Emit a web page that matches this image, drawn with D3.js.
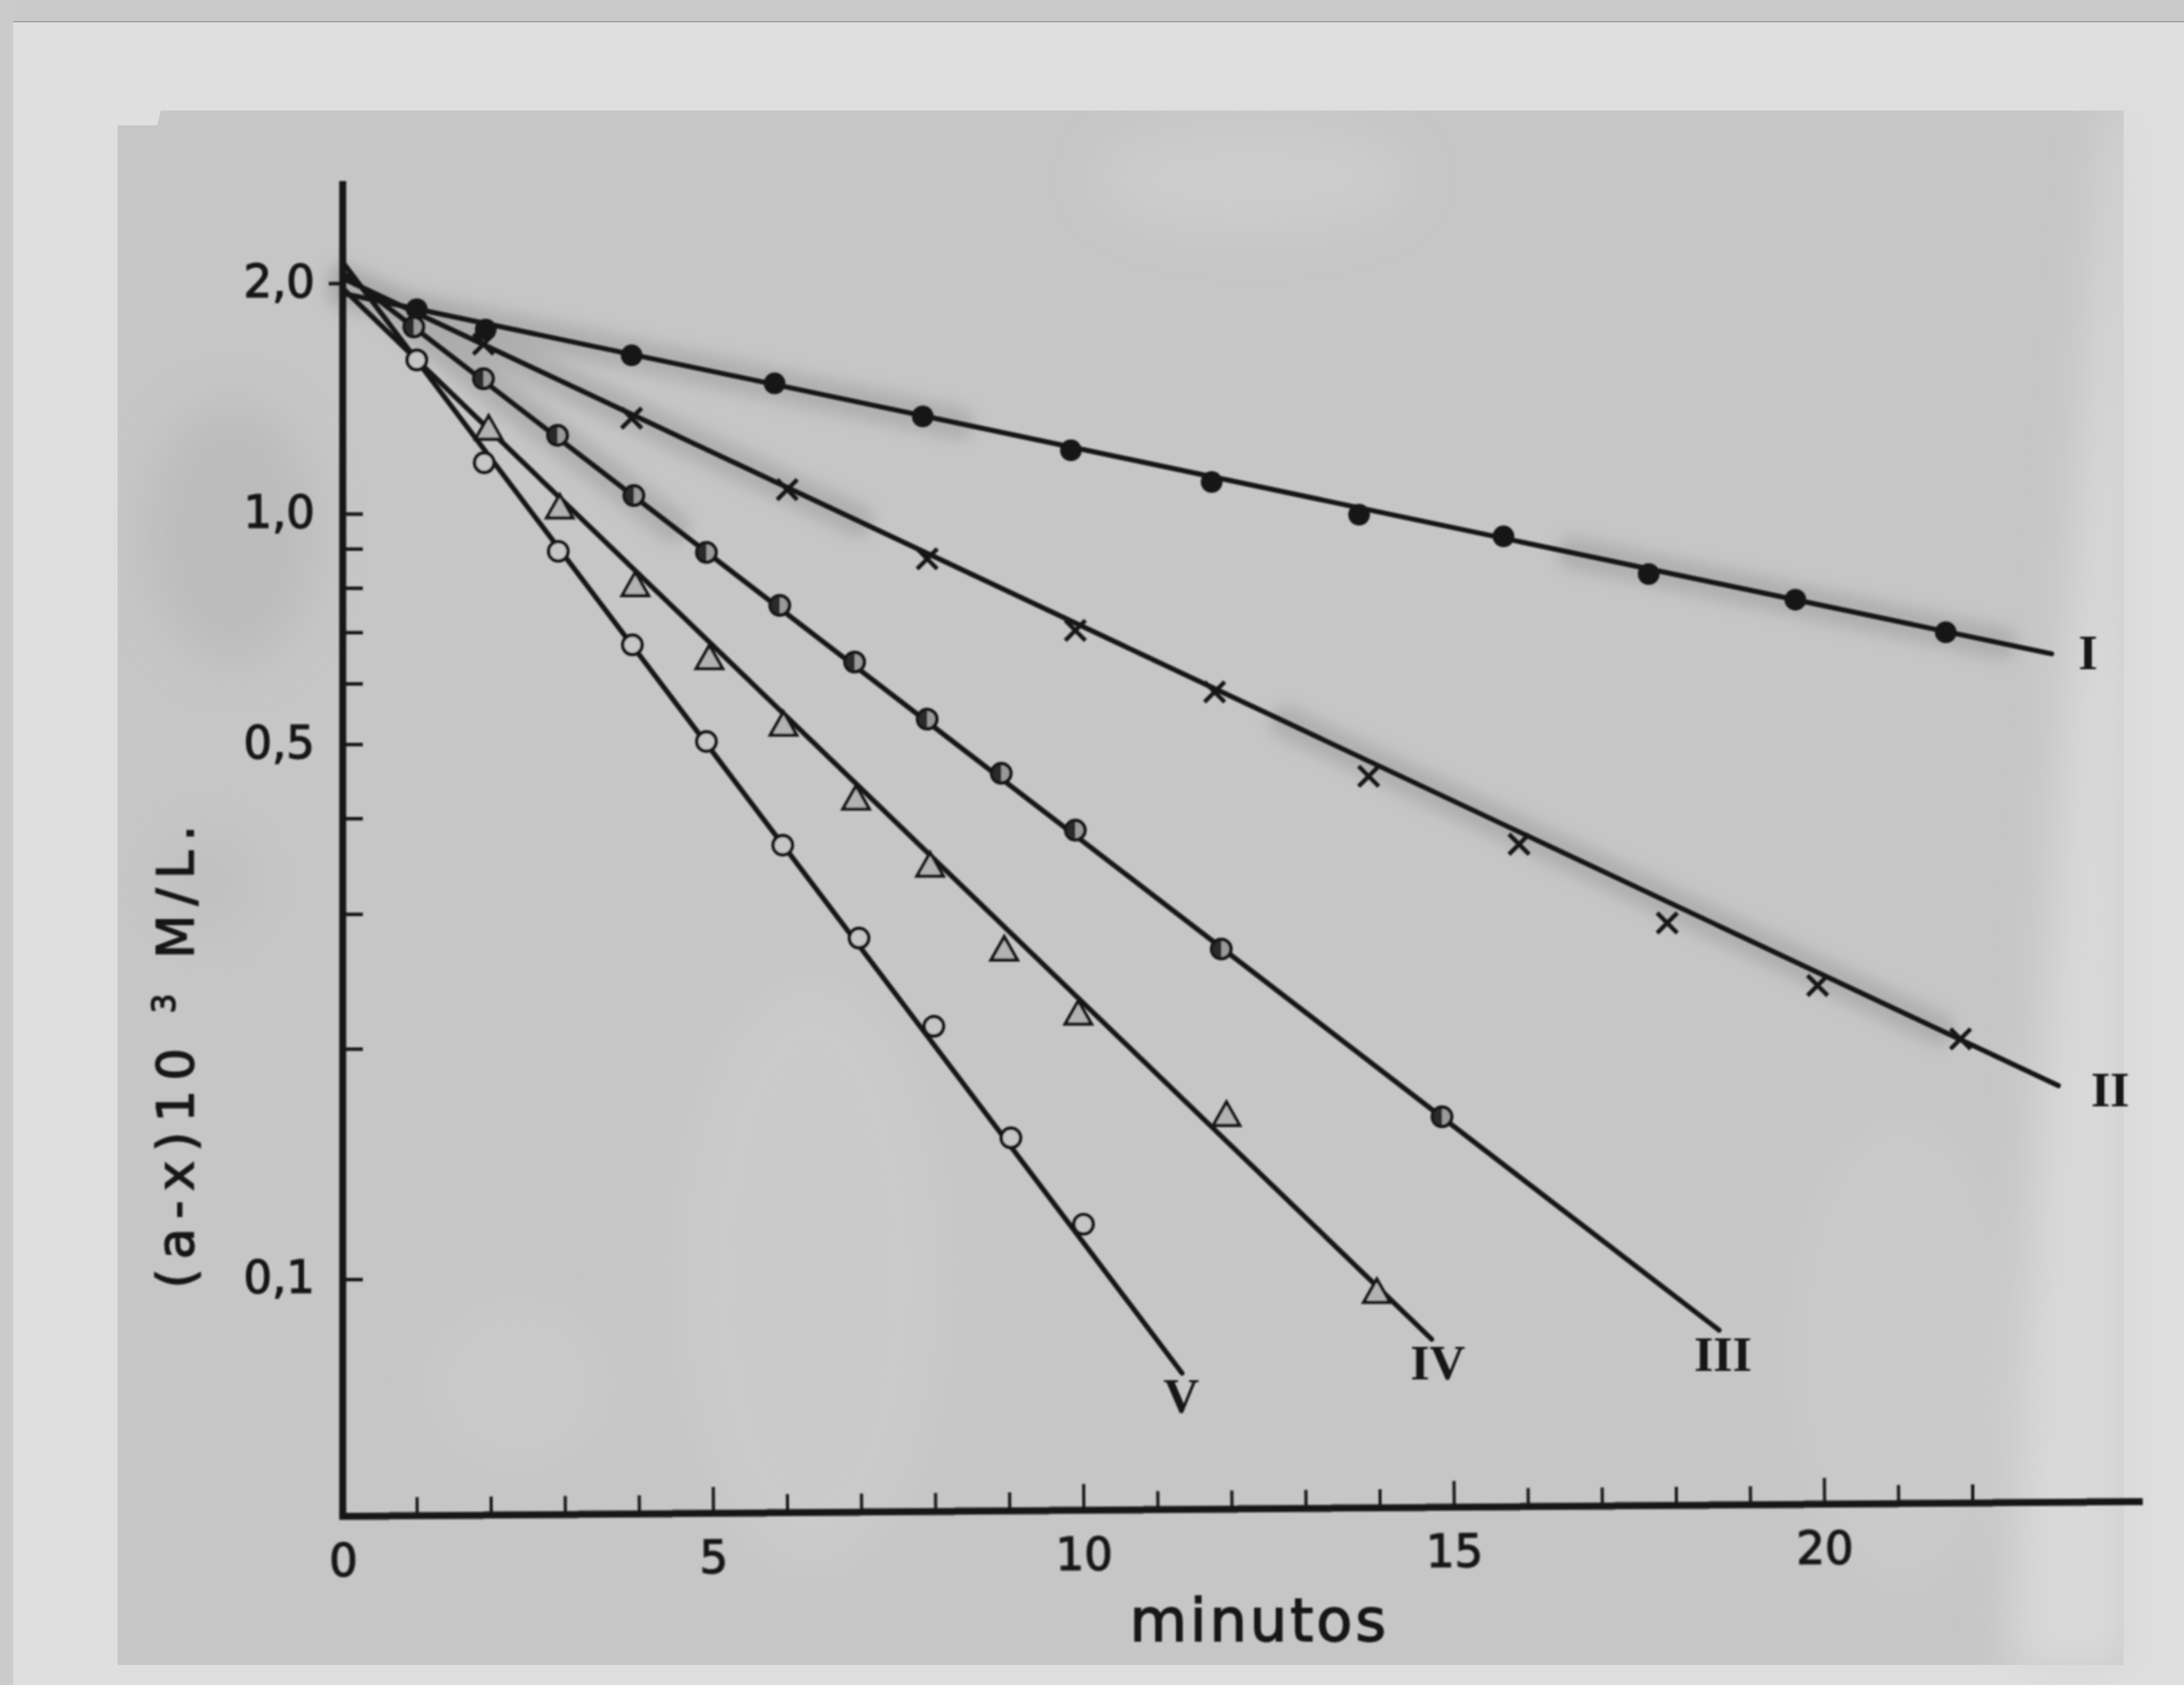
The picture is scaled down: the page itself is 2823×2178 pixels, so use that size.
<!DOCTYPE html>
<html>
<head>
<meta charset="utf-8">
<script src="https://cdn.jsdelivr.net/npm/d3@7"></script>
<style>
  html, body { margin: 0; padding: 0; background: #dfdfdf; }
  svg { display: block; }
</style>
</head>
<body>
<svg id="chart" width="2823" height="2178"></svg>
<script>
// ---- Data: time (minutos) and (a-x)·10^3 M/L for each run ----
const seriesNames = ["I", "II", "III", "IV", "V"];

const timesI  = [1.00, 1.93, 3.90, 5.83, 7.83, 9.83, 11.73, 13.72, 15.67, 17.63, 19.61, 21.64];
const valuesI = [1.85, 1.74, 1.61, 1.48, 1.34, 1.21, 1.10, 0.997, 0.934, 0.834, 0.772, 0.700];

const timesII  = [1.90, 3.90, 6.00, 7.89, 9.89, 11.77, 13.85, 15.88, 17.88, 19.91, 21.84];
const valuesII = [1.665, 1.333, 1.075, 0.873, 0.704, 0.585, 0.454, 0.370, 0.292, 0.242, 0.206];

const timesIII  = [0.96, 1.90, 2.90, 3.93, 4.91, 5.90, 6.91, 7.89, 8.89, 9.89, 11.86, 14.84];
const valuesIII = [1.754, 1.501, 1.266, 1.056, 0.890, 0.759, 0.640, 0.539, 0.458, 0.386, 0.270, 0.163];

const timesIV  = [1.97, 2.93, 3.95, 4.95, 5.95, 6.93, 7.93, 8.93, 9.93, 11.93, 13.96];
const valuesIV = [1.284, 1.013, 0.802, 0.644, 0.527, 0.422, 0.345, 0.268, 0.221, 0.163, 0.0957];

const timesV  = [1.00, 1.91, 2.91, 3.91, 4.91, 5.94, 6.97, 7.98, 9.02, 10.00];
const valuesV = [1.588, 1.166, 0.893, 0.674, 0.504, 0.369, 0.279, 0.214, 0.153, 0.118];

// Ruled straight lines: value at t = 0 and the point where each line stops
const lineStartValues = [1.94, 2.03, 2.065, 1.97, 2.13];
const lineEndTimes    = [23.07, 23.16, 18.58, 14.70, 11.33];
const lineEndValues   = [0.656, 0.179, 0.0858, 0.0835, 0.0754];

// Axis ticks
const xMajorTicks = [0, 5, 10, 15, 20];
const xMinorTicks = [1, 2, 3, 4, 6, 7, 8, 9, 11, 12, 13, 14, 16, 17, 18, 19, 21, 22];
const yLabelTicks = [2, 1, 0.5, 0.1];
const yMinorTicks = [1, 0.9, 0.8, 0.7, 0.6, 0.5, 0.4, 0.3, 0.2, 0.1];
const xAxisMax = 24.3;
const yAxisMax = 2.72;

// ---- Layout ----
const svg = d3.select("#chart");
const INK = "#151515";
const PAPER = "#c6c6c6";
const x = d3.scaleLinear().domain([0, 20]).range([443, 2358]);
const y = d3.scaleLog().domain([0.1, 1]).range([1653.5, 664]);
const axisY = 1960;

const defs = svg.append("defs");
defs.append("filter").attr("id", "soft").attr("x", "-5%").attr("y", "-5%").attr("width", "110%").attr("height", "110%")
  .append("feGaussianBlur").attr("stdDeviation", 1.3);
defs.append("filter").attr("id", "haze").attr("x", "-50%").attr("y", "-50%").attr("width", "200%").attr("height", "200%")
  .append("feGaussianBlur").attr("stdDeviation", 30);
defs.append("filter").attr("id", "smudge").attr("x", "-30%").attr("y", "-30%").attr("width", "160%").attr("height", "160%")
  .append("feGaussianBlur").attr("stdDeviation", 9);

// ---- Paper: mount and the grey print ----
const paper = svg.append("g");
paper.append("rect").attr("width", 2823).attr("height", 2178).attr("fill", "#dfdfdf");
paper.append("rect").attr("width", 2823).attr("height", 27).attr("fill", "#cacaca");
paper.append("rect").attr("y", 27).attr("width", 2823).attr("height", 2).attr("fill", "#a6a6a6");
paper.append("rect").attr("width", 17).attr("height", 2178).attr("fill", "#cbcbcb");
paper.append("path")
  .attr("d", "M152,162 L203,162 L208,143 L2745,143 L2745,2152 L152,2152 Z")
  .attr("fill", PAPER);
// lighter ragged margin on the right edge
paper.append("path")
  .attr("d", "M2760,130 L2760,2165 L2600,2165 L2610,1800 L2645,1300 L2670,900 L2700,500 L2730,140 Z")
  .attr("fill", "#d9d9d9").attr("filter", "url(#haze)");

// blotches in the print
const blotches = [
  [1050, 1650, 170, 380, "#d0d0d0", 0.45],
  [2460, 1750, 140, 300, "#d0d0d0", 0.4],
  [1620, 230, 200, 70, "#d2d2d2", 0.55],
  [670, 1790, 120, 110, "#cecece", 0.45],
  [300, 690, 110, 170, "#b4b4b4", 0.55],
  [270, 1140, 60, 70, "#b8b8b8", 0.4]
];
paper.selectAll("ellipse.blotch").data(blotches).join("ellipse")
  .attr("class", "blotch")
  .attr("cx", d => d[0]).attr("cy", d => d[1]).attr("rx", d => d[2]).attr("ry", d => d[3])
  .attr("fill", d => d[4]).attr("opacity", d => d[5]).attr("filter", "url(#haze)");

// ---- Series ----
const series = [
  { name: "I",   t: timesI,   v: valuesI,   kind: "disc" },
  { name: "II",  t: timesII,  v: valuesII,  kind: "cross" },
  { name: "III", t: timesIII, v: valuesIII, kind: "half" },
  { name: "IV",  t: timesIV,  v: valuesIV,  kind: "triangle" },
  { name: "V",   t: timesV,   v: valuesV,   kind: "ring" }
].map((s, i) => ({
  ...s,
  start: [0, lineStartValues[i]],
  end: [lineEndTimes[i], lineEndValues[i]],
  points: s.t.map((t, j) => [t, s.v[j]])
}));

// grey smudges that follow parts of the ruled lines
const smudgeSpans = { I: [[0, 0.36], [0.72, 0.97]], II: [[0, 0.3], [0.55, 0.93]], III: [[0.03, 0.24]] };
const smudges = svg.append("g").attr("filter", "url(#smudge)");
series.forEach(s => {
  (smudgeSpans[s.name] || []).forEach(([a, b]) => {
    const x0 = x(s.start[0]), y0 = y(s.start[1]), x1 = x(s.end[0]), y1 = y(s.end[1]);
    smudges.append("line")
      .attr("x1", x0 + (x1 - x0) * a).attr("y1", y0 + (y1 - y0) * a)
      .attr("x2", x0 + (x1 - x0) * b).attr("y2", y0 + (y1 - y0) * b)
      .attr("stroke", "#a9a9a9").attr("stroke-width", 42).attr("stroke-linecap", "round")
      .attr("opacity", 0.75);
  });
});

const ink = svg.append("g").attr("filter", "url(#soft)");

// ---- Axes ----
// y axis line
ink.append("line")
  .attr("x1", x(0)).attr("x2", x(0)).attr("y1", y(yAxisMax)).attr("y2", axisY + 4)
  .attr("stroke", INK).attr("stroke-width", 9);

const yTicks = ink.append("g").attr("transform", `translate(${x(0)},0)`)
  .call(d3.axisRight(y).tickValues(yMinorTicks).tickSizeInner(26).tickSizeOuter(0).tickFormat(""));
yTicks.select(".domain").remove();
yTicks.selectAll(".tick line").attr("stroke", INK).attr("stroke-width", 4.5);

const yTop = ink.append("g").attr("transform", `translate(${x(0)},0)`)
  .call(d3.axisLeft(y).tickValues([2]).tickSizeInner(18).tickSizeOuter(0).tickFormat(""));
yTop.select(".domain").remove();
yTop.selectAll(".tick line").attr("stroke", INK).attr("stroke-width", 4.5);

const fmt = d => d3.format(".1f")(d).replace(".", ",");
const yLabels = ink.append("g").attr("transform", `translate(${x(0)},0)`)
  .call(d3.axisLeft(y).tickValues(yLabelTicks).tickSizeInner(0).tickSizeOuter(0).tickPadding(36).tickFormat(fmt));
yLabels.select(".domain").remove();
yLabels.selectAll(".tick line").remove();
yLabels.selectAll(".tick text")
  .attr("font-family", "'DejaVu Sans', sans-serif").attr("font-size", 58)
  .attr("stroke", INK).attr("stroke-width", 1.5)
  .attr("fill", INK).attr("dy", "0.3em");

// x axis (slightly tilted on the print)
const xAxisG = ink.append("g").attr("transform", `rotate(-0.47, ${x(0)}, ${axisY})`);
xAxisG.append("line")
  .attr("x1", x(0) - 4).attr("x2", x(xAxisMax)).attr("y1", axisY).attr("y2", axisY)
  .attr("stroke", INK).attr("stroke-width", 9);

const xMinor = xAxisG.append("g").attr("transform", `translate(0,${axisY})`)
  .call(d3.axisBottom(x).tickValues(xMinorTicks).tickSizeInner(-24).tickSizeOuter(0).tickFormat(""));
xMinor.select(".domain").remove();
xMinor.selectAll(".tick line").attr("stroke", INK).attr("stroke-width", 4);

const xMajor = xAxisG.append("g").attr("transform", `translate(0,${axisY})`)
  .call(d3.axisBottom(x).tickValues(xMajorTicks).tickSizeInner(-34).tickSizeOuter(0).tickPadding(36).tickFormat(d3.format("d")));
xMajor.select(".domain").remove();
xMajor.selectAll(".tick line").attr("stroke", INK).attr("stroke-width", 4)
  .filter(d => d === 0).remove();
xMajor.selectAll(".tick text")
  .attr("font-family", "'DejaVu Sans', sans-serif").attr("font-size", 58)
  .attr("stroke", INK).attr("stroke-width", 1.5).attr("fill", INK);

// axis titles
ink.append("text")
  .attr("x", 1628).attr("y", 2121)
  .attr("text-anchor", "middle")
  .attr("font-family", "'DejaVu Sans', sans-serif").attr("font-size", 76)
  .attr("stroke", INK).attr("stroke-width", 1.8)
  .attr("letter-spacing", 4).attr("fill", INK)
  .text("minutos");

const yTitle = ink.append("text")
  .attr("transform", "translate(250,1360) rotate(-90)")
  .attr("text-anchor", "middle")
  .attr("font-family", "'DejaVu Sans', sans-serif").attr("font-size", 66)
  .attr("stroke", INK).attr("stroke-width", 1.6)
  .attr("letter-spacing", 12).attr("fill", INK);
yTitle.append("tspan").text("(a-x)10 ");
yTitle.append("tspan").attr("font-size", 40).attr("dy", -24).text("3");
yTitle.append("tspan").attr("dy", 24).text(" M/L.");

// ---- Lines and markers ----
const lineGen = d3.line().x(d => x(d[0])).y(d => y(d[1]));
ink.selectAll("path.fit").data(series).join("path")
  .attr("class", "fit")
  .attr("d", s => lineGen([s.start, s.end]))
  .attr("fill", "none").attr("stroke", INK).attr("stroke-width", 6.5).attr("stroke-linecap", "round");

series.forEach(s => {
  const g = ink.append("g");
  const pts = g.selectAll("g.pt").data(s.points).join("g")
    .attr("class", "pt")
    .attr("transform", d => `translate(${x(d[0])},${y(d[1])})`);
  if (s.kind === "disc") {
    pts.append("circle").attr("r", 14).attr("fill", INK);
  } else if (s.kind === "cross") {
    pts.append("path").attr("d", "M-13,-13L13,13M-13,13L13,-13")
      .attr("stroke", INK).attr("stroke-width", 5.5).attr("fill", "none");
  } else if (s.kind === "half") {
    pts.append("circle").attr("r", 12.5).attr("fill", "#9a9a9a").attr("stroke", INK).attr("stroke-width", 4.5);
    pts.append("path").attr("d", "M0,-11 A11,11 0 0 0 0,11 Z").attr("fill", "#2a2a2a");
  } else if (s.kind === "triangle") {
    pts.append("path").attr("d", "M0,-19L17,11L-17,11Z")
      .attr("fill", "#b2b2b2").attr("stroke", INK).attr("stroke-width", 4.2).attr("stroke-linejoin", "miter");
  } else {
    pts.append("circle").attr("r", 12.5).attr("fill", PAPER).attr("stroke", INK).attr("stroke-width", 4.4);
  }
});

// run labels at the end of each line
const labelOffsets = { I: [47, -2], II: [67, 5], III: [5, 31], IV: [8, 31], V: [-1, 30] };
ink.selectAll("text.run").data(series).join("text")
  .attr("class", "run")
  .attr("x", s => x(s.end[0]) + labelOffsets[s.name][0])
  .attr("y", s => y(s.end[1]) + labelOffsets[s.name][1])
  .attr("text-anchor", "middle").attr("dominant-baseline", "central")
  .attr("font-family", "'Liberation Serif', serif").attr("font-weight", "bold")
  .attr("font-size", 64).attr("fill", INK)
  .text(s => s.name);
</script>
</body>
</html>
